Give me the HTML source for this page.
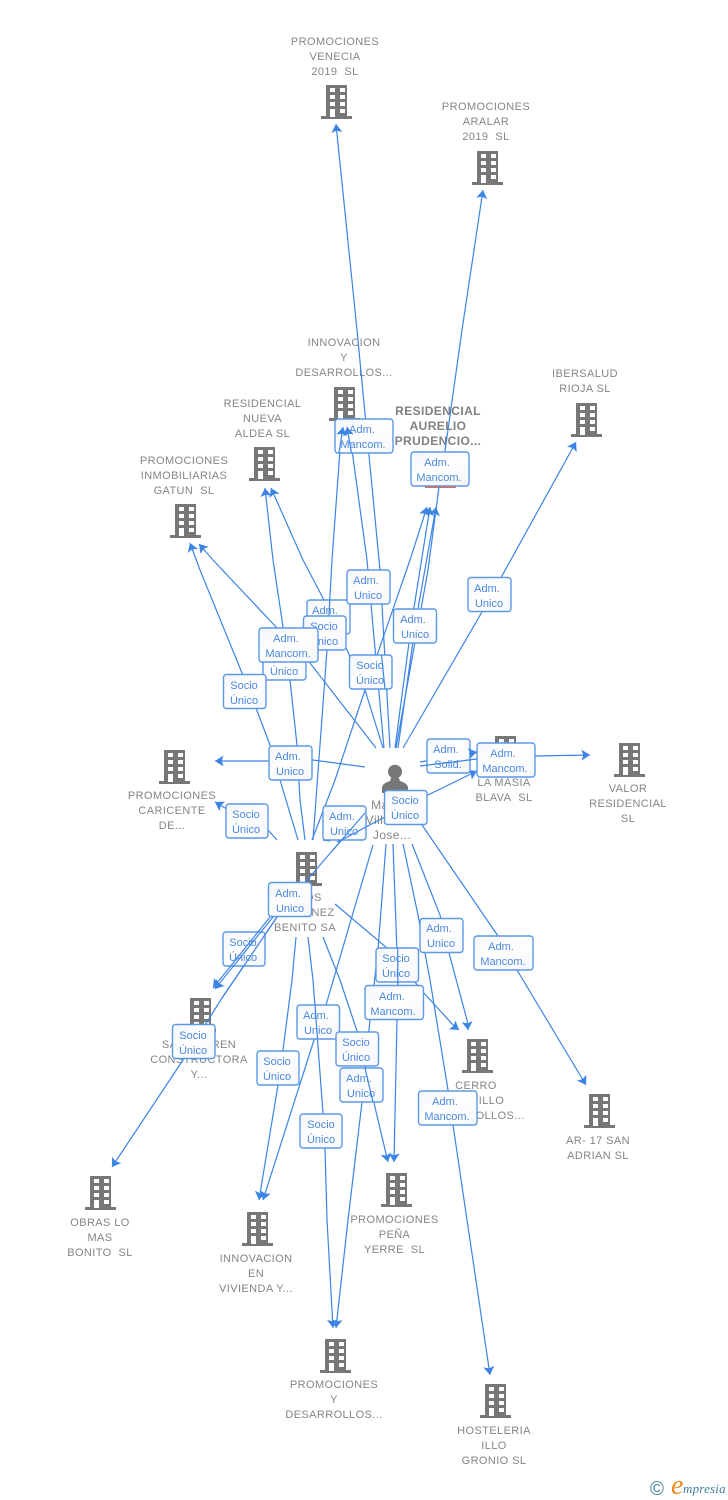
<!DOCTYPE html>
<html><head><meta charset="utf-8"><style>
html,body{margin:0;padding:0;background:#fff}
svg{display:block}
text{font-family:"Liberation Sans",sans-serif}
.l{font-size:11px;letter-spacing:.4px;fill:#858585;text-anchor:middle}
.b{font-size:12px;letter-spacing:.4px;fill:#808080;font-weight:bold;text-anchor:middle}
.p{font-size:12px;letter-spacing:.4px;fill:#858585;text-anchor:middle}
.t{font-size:11px;fill:#4a88de;text-anchor:middle}
.e polyline{fill:none;stroke:#3c84e4;stroke-width:1.2}
.a{marker-end:url(#ar)}
.r{fill:url(#g);stroke:#5c98e6;stroke-width:1.4}
</style></head><body>
<svg width="728" height="1500" viewBox="0 0 728 1500" xmlns="http://www.w3.org/2000/svg">
<defs>
<linearGradient id="g" x1="0" y1="0" x2="1" y2="1"><stop offset="0" stop-color="#f3f5f9"/><stop offset=".45" stop-color="#fff"/><stop offset="1" stop-color="#f6f7fb"/></linearGradient>
<marker id="ar" markerUnits="userSpaceOnUse" markerWidth="13" markerHeight="13" refX="9.500" refY="6" orient="auto"><path d="M9.500 6L1 .5L2.800 6L1 11.500Z" fill="#3c84e4"/></marker>
<g id="h"><rect x="-11" y="0" width="21" height="32" fill="#777"/><rect x="-16" y="31" width="31" height="3" fill="#777"/>
<g fill="#fff"><rect x="-7" y="3" width="5" height="4"/><rect x="3" y="3" width="5" height="4"/><rect x="-7" y="10" width="5" height="4"/><rect x="3" y="10" width="5" height="4"/><rect x="-7" y="17" width="5" height="4"/><rect x="3" y="17" width="5" height="4"/><rect x="-7" y="24" width="5" height="8"/><rect x="3" y="24" width="5" height="4"/></g></g>
</defs>

<!-- buildings -->
<use href="#h" x="337" y="85"/><use href="#h" x="488" y="151"/><use href="#h" x="345" y="387"/>
<use href="#h" x="265" y="447"/><use href="#h" x="186" y="504"/><use href="#h" x="587" y="403"/>
<use href="#h" x="441" y="454"/><rect x="425" y="485" width="31" height="3" fill="#ee6a3c"/>
<use href="#h" x="175" y="750"/><use href="#h" x="506" y="736"/><use href="#h" x="630" y="743"/>
<use href="#h" x="307" y="852"/><use href="#h" x="201" y="998"/><use href="#h" x="478" y="1039"/>
<use href="#h" x="600" y="1094"/><use href="#h" x="101" y="1176"/><use href="#h" x="258" y="1212"/>
<use href="#h" x="397" y="1173"/><use href="#h" x="336" y="1339"/><use href="#h" x="496" y="1384"/>
<circle cx="395" cy="771.700" r="7" fill="#777"/><path d="M382 793V787Q383 783 390 781L391 778H399L400 781Q407 783 408 787V793Z" fill="#777"/>

<!-- labels -->
<text class="l" x="335" y="45">PROMOCIONES<tspan x="335" dy="15">VENECIA</tspan><tspan x="335" dy="15">2019&#160; SL</tspan></text>
<text class="l" x="486" y="110">PROMOCIONES<tspan x="486" dy="15">ARALAR</tspan><tspan x="486" dy="15">2019&#160; SL</tspan></text>
<text class="l" x="344" y="346">INNOVACION<tspan x="344" dy="15">Y</tspan><tspan x="344" dy="15">DESARROLLOS...</tspan></text>
<text class="l" x="262.500" y="407">RESIDENCIAL<tspan x="262.500" dy="15">NUEVA</tspan><tspan x="262.500" dy="15">ALDEA SL</tspan></text>
<text class="l" x="184" y="464">PROMOCIONES<tspan x="184" dy="15">INMOBILIARIAS</tspan><tspan x="184" dy="15">GATUN&#160; SL</tspan></text>
<text class="l" x="585" y="377">IBERSALUD<tspan x="585" dy="15">RIOJA SL</tspan></text>
<text class="b" x="438" y="415">RESIDENCIAL<tspan x="438" dy="15">AURELIO</tspan><tspan x="438" dy="15">PRUDENCIO...</tspan></text>
<text class="l" x="172" y="799">PROMOCIONES<tspan x="172" dy="15">CARICENTE</tspan><tspan x="172" dy="15">DE...</tspan></text>
<text class="l" x="504" y="786">LA MASIA<tspan x="504" dy="15">BLAVA&#160; SL</tspan></text>
<text class="l" x="628" y="792">VALOR<tspan x="628" dy="15">RESIDENCIAL</tspan><tspan x="628" dy="15">SL</tspan></text>
<text class="p" x="392" y="809">Manuel<tspan x="391" dy="15">Villarreal</tspan><tspan x="392" dy="15">Jose...</tspan></text>
<text class="l" x="305" y="901">HNOS<tspan x="305" dy="15">MARTINEZ</tspan><tspan x="305" dy="15">BENITO SA</tspan></text>
<text class="l" x="199" y="1048">SAN LAUREN<tspan x="199" dy="15">CONSTRUCTORA</tspan><tspan x="199" dy="15">Y...</tspan></text>
<text class="l" x="476" y="1089">CERRO<tspan x="476" dy="15">CASTILLO</tspan><tspan x="476" dy="15">DESARROLLOS...</tspan></text>
<text class="l" x="598" y="1144">AR- 17 SAN<tspan x="598" dy="15">ADRIAN SL</tspan></text>
<text class="l" x="100" y="1226">OBRAS LO<tspan x="100" dy="15">MAS</tspan><tspan x="100" dy="15">BONITO&#160; SL</tspan></text>
<text class="l" x="256" y="1262">INNOVACION<tspan x="256" dy="15">EN</tspan><tspan x="256" dy="15">VIVIENDA Y...</tspan></text>
<text class="l" x="394.500" y="1223">PROMOCIONES<tspan x="394.500" dy="15">PEÑA</tspan><tspan x="394.500" dy="15">YERRE&#160; SL</tspan></text>
<text class="l" x="334" y="1388">PROMOCIONES<tspan x="334" dy="15">Y</tspan><tspan x="334" dy="15">DESARROLLOS...</tspan></text>
<text class="l" x="494" y="1434">HOSTELERIA<tspan x="494" dy="15">ILLO</tspan><tspan x="494" dy="15">GRONIO SL</tspan></text>

<!-- base connectors -->
<g class="e">
<polyline class="a" points="390,748 380,570 357,330 336,124"/>
<polyline class="a" points="396,748 428,570 439,487 445,451 462,330 483,190"/>
<polyline class="a" points="395,748 412,620 430,507"/>
<polyline class="a" points="398,748 416,620 436,507"/>
<polyline class="a" points="312,840 335,780 365,690 410,560 427,507"/>
<polyline points="313,840 327,650 332,560 340,450"/>
<polyline points="384,748 367,560 352,450"/>
<polyline class="a" points="305,840 300,800 297,745 290,680 282,620 273,560 265,488"/>
<polyline class="a" points="383,748 365,690 347,650 324,600 303,560 271,488"/>
<polyline class="a" points="376,748 310,663 277,628 213,560 199,544"/>
<polyline class="a" points="298,840 280,780 270,745 256,708 242,673 200,570 190,543"/>
<polyline class="a" points="403,748 482,612 576,442"/>
<polyline class="a" points="365,767 313,760 268,761 215,761"/>
<polyline class="a" points="277,840 268,830 225,808 215,802"/>
<polyline class="a" points="337,842 385,817 428,795 477,771"/>
<polyline points="420,762 477,752"/>
<polyline points="323,840 330,841"/>
<polyline points="365,813 307,880 277,917 222,998 183,1060 112,1167" class="a"/>
<polyline class="a" points="335,904 387,948 423,992 455,1027 459,1030"/>
<polyline class="a" points="412,844 440,915 449,953 467,1020 468,1030"/>
<polyline class="a" points="393,844 398,980 397,1020 394,1162"/>
<polyline class="a" points="323,937 340,980 357,1031 365,1065 388,1162"/>
<polyline class="a" points="296,937 292,980 283,1050 278,1085 259,1200"/>
<polyline class="a" points="373,845 326,1005 314,1040 263,1200"/>
<polyline class="a" points="308,937 313,980 323,1113 325,1148 327,1220 333,1328"/>
<polyline class="a" points="386,844 378,950 370,1020 362,1102 348,1220 336,1328"/>
<polyline class="a" points="403,844 418,915 425,953 430,980 448,1090 453,1125 467,1220 490,1375"/>
<polyline class="a" points="422,825 498,936 517,970 586,1085"/>
</g>

<!-- boxes -->
<g>
<rect class="r" x="307" y="600" width="43" height="34" rx="3"/><text class="t" x="325" y="614">Adm.<tspan x="328" dy="15">Unico</tspan></text>
<polyline points="329.800,600 328.900,617" fill="none" stroke="#3c84e4" stroke-width="1.2"/>
<rect class="r" x="303.500" y="616" width="42.500" height="34" rx="3"/><text class="t" x="324" y="630">Socio<tspan x="324" dy="15">Único</tspan></text>
<rect class="r" x="263" y="646" width="43" height="34" rx="3"/><text class="t" x="284" y="660">Socio<tspan x="284" dy="15">Único</tspan></text>
<rect class="r" x="259" y="628" width="59" height="34" rx="3"/><text class="t" x="286" y="642">Adm.<tspan x="288" dy="15">Mancom.</tspan></text>
<rect class="r" x="335" y="419" width="58" height="34" rx="3"/><text class="t" x="362" y="433">Adm.<tspan x="363" dy="15">Mancom.</tspan></text>
<rect class="r" x="411" y="452" width="58" height="34" rx="3"/><text class="t" x="437" y="466">Adm.<tspan x="439" dy="15">Mancom.</tspan></text>
<rect class="r" x="347" y="570" width="43" height="34" rx="3"/><text class="t" x="366" y="584">Adm.<tspan x="368" dy="15">Unico</tspan></text>
<rect class="r" x="393.500" y="609" width="43" height="34" rx="3"/><text class="t" x="413" y="623">Adm.<tspan x="415" dy="15">Unico</tspan></text>
<rect class="r" x="468" y="577.500" width="43" height="34" rx="3"/><text class="t" x="487" y="592">Adm.<tspan x="489" dy="15">Unico</tspan></text>
<rect class="r" x="349.500" y="655" width="42.500" height="34" rx="3"/><text class="t" x="370" y="669">Socio<tspan x="370" dy="15">Único</tspan></text>
<rect class="r" x="223.500" y="674.500" width="42.500" height="34" rx="3"/><text class="t" x="244" y="689">Socio<tspan x="244" dy="15">Único</tspan></text>
<rect class="r" x="269" y="746" width="43" height="34" rx="3"/><text class="t" x="288" y="760">Adm.<tspan x="290" dy="15">Unico</tspan></text>
<rect class="r" x="427" y="739" width="43" height="34" rx="3"/><text class="t" x="446" y="753">Adm.<tspan x="448" dy="15">Solid.</tspan></text>
<rect class="r" x="477" y="743" width="58" height="34" rx="3"/><text class="t" x="503" y="757">Adm.<tspan x="505" dy="15">Mancom.</tspan></text>
<rect class="r" x="226" y="804" width="42" height="34" rx="3"/><text class="t" x="246" y="818">Socio<tspan x="246" dy="15">Único</tspan></text>
<rect class="r" x="323" y="806" width="43" height="34" rx="3"/><text class="t" x="342" y="820">Adm.<tspan x="344" dy="15">Unico</tspan></text>
<rect class="r" x="384.500" y="790.500" width="42.500" height="34" rx="3"/><text class="t" x="405" y="804">Socio<tspan x="405" dy="15">Único</tspan></text>
<rect class="r" x="268.500" y="882.500" width="43" height="34" rx="3"/><text class="t" x="288" y="897">Adm.<tspan x="290" dy="15">Unico</tspan></text>
<rect class="r" x="223" y="932" width="42" height="34" rx="3"/><text class="t" x="243" y="946">Socio<tspan x="243" dy="15">Único</tspan></text>
<rect class="r" x="420" y="918.500" width="43" height="34" rx="3"/><text class="t" x="439" y="932">Adm.<tspan x="441" dy="15">Unico</tspan></text>
<rect class="r" x="474" y="936" width="59" height="34" rx="3"/><text class="t" x="501" y="950">Adm.<tspan x="503" dy="15">Mancom.</tspan></text>
<rect class="r" x="376" y="948" width="42.500" height="34" rx="3"/><text class="t" x="396" y="962">Socio<tspan x="396" dy="15">Único</tspan></text>
<polyline points="397.700,948 397.900,986" fill="none" stroke="#3c84e4" stroke-width="1.2"/>
<rect class="r" x="365" y="985.500" width="58.500" height="34" rx="3"/><text class="t" x="392" y="1000">Adm.<tspan x="393" dy="15">Mancom.</tspan></text>
<rect class="r" x="297" y="1005" width="42.500" height="34" rx="3"/><text class="t" x="316" y="1019">Adm.<tspan x="318" dy="15">Unico</tspan></text>
<rect class="r" x="336" y="1032" width="42.500" height="34" rx="3"/><text class="t" x="356" y="1046">Socio<tspan x="356" dy="15">Único</tspan></text>
<rect class="r" x="340" y="1068" width="43" height="34" rx="3"/><text class="t" x="359" y="1082">Adm.<tspan x="361" dy="15">Unico</tspan></text>
<rect class="r" x="257" y="1051" width="42" height="34" rx="3"/><text class="t" x="277" y="1065">Socio<tspan x="277" dy="15">Único</tspan></text>
<rect class="r" x="172.500" y="1024.500" width="42.500" height="34" rx="3"/><text class="t" x="193" y="1039">Socio<tspan x="193" dy="15">Único</tspan></text>
<rect class="r" x="300" y="1114" width="42" height="34" rx="3"/><text class="t" x="321" y="1128">Socio<tspan x="321" dy="15">Único</tspan></text>
<rect class="r" x="418.500" y="1091" width="58.500" height="34" rx="3"/><text class="t" x="445" y="1105">Adm.<tspan x="447" dy="15">Mancom.</tspan></text>
</g>

<!-- connectors drawn above boxes -->
<g class="e">
<polyline class="a" points="339,453 343,427"/>
<polyline class="a" points="351.500,453 347,427"/>
<polyline points="381.500,655 385,689"/>
<polyline points="420,766 477,759"/>
<polyline class="a" points="469,753.500 477,752"/>
<polyline class="a" points="535,756 590,755"/>
<polyline points="365,813 333,850"/>
<polyline points="366,827 338,842"/>
<polyline class="a" points="270,917 213,988"/>
<polyline class="a" points="273,917 215,989"/>
<polyline points="277,917 222,998"/>
<polyline points="315,1005 317.500,1039"/>
<polyline points="365,1068 373,1102"/>
</g>

<!-- logo -->
<text x="650" y="1495" font-size="19" fill="#3f7f9c">©</text>
<text x="671" y="1494" font-size="28" font-style="italic" style="font-family:'Liberation Serif',serif" fill="#ee8a1e">e</text>
<text x="683" y="1493" font-size="13" font-style="italic" letter-spacing=".2" style="font-family:'Liberation Serif',serif" fill="#3f7f9c">mpresia</text>
</svg>
</body></html>
